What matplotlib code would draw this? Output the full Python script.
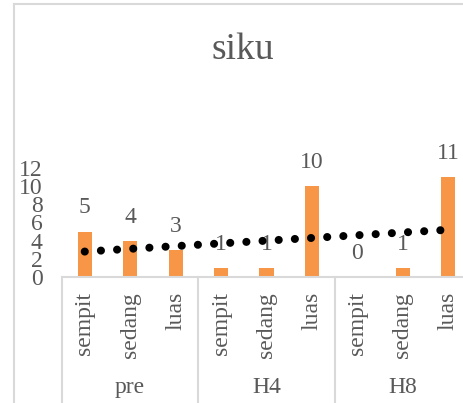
import numpy as np
import matplotlib.pyplot as plt
from matplotlib.lines import Line2D
import matplotlib.transforms as mtransforms

plt.rcParams['font.family'] = 'Liberation Serif'

groups = ['pre', 'H4', 'H8']
sizes = ['sempit', 'sedang', 'luas']
values = [5, 4, 3, 1, 1, 10, 0, 1, 11]

bar_color = '#F79646'
text_color = '#595959'
line_color = '#D9D9D9'

W, H = 463, 403
fig = plt.figure(figsize=(W / 100, H / 100), dpi=100)


def fx(px):
    return px / W


def fy(py):
    return (H - py) / H


# plot area: x from 62 to 471 px, y from 168 (value 12) to 277 (value 0)
ax = fig.add_axes([fx(62), fy(277), fx(471 - 62), fy(168) - fy(277)])

x = np.arange(1, len(values) + 1)
ax.bar(x, values, width=0.31, color=bar_color, zorder=2)

for xi, v in zip(x, values):
    ax.annotate(str(v), (xi, v), xytext=(0, 17), textcoords='offset points',
                ha='center', va='center', fontsize=17, color=text_color)

# linear trend
k, b = np.polyfit(x, values, 1)
ax.plot(x, k * x + b, color='black', linewidth=5.8, linestyle=(0, (0.01, 2.0)),
        dash_capstyle='round', zorder=3)

ax.set_xlim(0.5, len(values) + 0.5)
ax.set_ylim(0, 12)
ax.set_yticks(range(0, 13, 2))
ax.tick_params(axis='y', length=0, labelsize=17, labelcolor=text_color, pad=14)
ax.set_xticks([])
for s in ax.spines.values():
    s.set_visible(False)

trans = mtransforms.blended_transform_factory(ax.transData, ax.transAxes)
ax.plot([0.5, len(values) + 0.5], [0, 0], color=line_color, linewidth=1.5,
        transform=trans, clip_on=False)
for sep in [0.5, 3.5, 6.5, 9.5]:
    ax.plot([sep, sep], [0, -1.4], color=line_color, linewidth=1.5,
            transform=trans, clip_on=False)

# category labels, rotated
px_per_axes = 277 - 168
for i, xi in enumerate(x):
    ax.text(xi, -15 / px_per_axes, sizes[i % 3], rotation=90, ha='center', va='top',
            fontsize=17, color=text_color, transform=trans)
for g, name in enumerate(groups):
    ax.text(3 * g + 2, -(388 - 277) / px_per_axes, name, ha='center', va='center',
            fontsize=17, color=text_color, transform=trans)

# chart border
fig.add_artist(Line2D([fx(13.5), fx(13.5)], [fy(4), 0], color=line_color, linewidth=1.5))
fig.add_artist(Line2D([fx(13.5), 1], [fy(4), fy(4)], color=line_color, linewidth=1.5))

fig.text(fx(243), fy(50), 'siku', ha='center', va='center', fontsize=27, color=text_color)

fig.savefig('out.png', dpi=100)
